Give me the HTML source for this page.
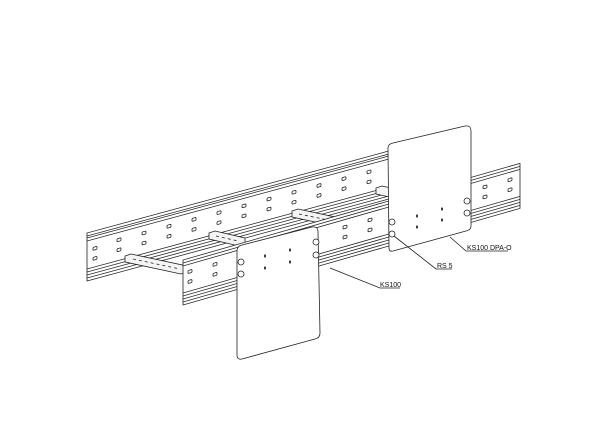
<!DOCTYPE html>
<html><head><meta charset="utf-8"><style>
html,body{margin:0;padding:0;background:#fff;width:600px;height:425px;overflow:hidden}
svg{display:block}
text{font-family:"Liberation Sans",sans-serif;font-size:7px;fill:#111}
</style></head><body>
<svg width="600" height="425" viewBox="0 0 600 425" xmlns="http://www.w3.org/2000/svg" stroke="#222" stroke-width="0.8" fill="none">
<!-- far rail -->
<g transform="translate(87,233) skewY(-15.2)">
  <rect x="0" y="0" width="303" height="48" fill="#fff"/>
  <line x1="0" y1="3" x2="303" y2="3"/><line x1="0" y1="5" x2="303" y2="5"/>
  <line x1="0" y1="8" x2="303" y2="8"/>
  <line x1="0" y1="36" x2="303" y2="36"/><line x1="0" y1="39" x2="303" y2="39"/>
  <line x1="0" y1="42" x2="303" y2="42"/><line x1="0" y1="45" x2="303" y2="45"/>
  <g fill="#fff">
  <rect x="6" y="16" width="4" height="3" rx="1"/><rect x="6" y="26" width="4" height="3" rx="1"/>
  <rect x="30" y="14" width="4" height="3" rx="1"/><rect x="30" y="24" width="4" height="3" rx="1"/>
  <rect x="55" y="14" width="4" height="3" rx="1"/><rect x="55" y="24" width="4" height="3" rx="1"/>
  <rect x="80" y="14" width="4" height="3" rx="1"/><rect x="80" y="24" width="4" height="3" rx="1"/>
  <rect x="105" y="14" width="4" height="3" rx="1"/><rect x="105" y="24" width="4" height="3" rx="1"/>
  <rect x="130" y="14" width="4" height="3" rx="1"/><rect x="130" y="24" width="4" height="3" rx="1"/>
  <rect x="155" y="14" width="4" height="3" rx="1"/><rect x="155" y="24" width="4" height="3" rx="1"/>
  <rect x="180" y="14" width="4" height="3" rx="1"/><rect x="180" y="24" width="4" height="3" rx="1"/>
  <rect x="205" y="14" width="4" height="3" rx="1"/><rect x="205" y="24" width="4" height="3" rx="1"/>
  <rect x="230" y="14" width="4" height="3" rx="1"/><rect x="230" y="24" width="4" height="3" rx="1"/>
  <rect x="255" y="14" width="4" height="3" rx="1"/><rect x="255" y="24" width="4" height="3" rx="1"/>
  <rect x="280" y="14" width="4" height="3" rx="1"/><rect x="280" y="24" width="4" height="3" rx="1"/>
  </g>
</g>
<!-- rungs -->
<g fill="#f4f4f4">
  <polygon points="125,256 131,254 187,266 187,272 181,274 125,262"/>
  <polygon points="209,233 215,231 245,238 245,244 239,246 209,239"/>
  <polygon points="292,211 298,209 335,217 335,223 329,225 292,217"/>
  <polygon points="376,188 382,186 400,190 400,196 394,198 376,194"/>
</g>
<g stroke-dasharray="3,3"><line x1="133" y1="259" x2="180" y2="269"/><line x1="216" y1="236" x2="238" y2="241"/><line x1="299" y1="214" x2="328" y2="220"/></g>
<!-- near rail -->
<g transform="translate(183,260) skewY(-16)">
  <rect x="0" y="0" width="337" height="45" fill="#fff"/>
  <line x1="0" y1="3" x2="337" y2="3"/><line x1="0" y1="6" x2="337" y2="6"/>
  <line x1="0" y1="33" x2="337" y2="33"/><line x1="0" y1="36" x2="337" y2="36"/>
  <line x1="0" y1="39" x2="337" y2="39"/><line x1="0" y1="42" x2="337" y2="42"/>
  <g fill="#fff">
  <rect x="5" y="12" width="4" height="3" rx="1"/><rect x="5" y="22" width="4" height="3" rx="1"/>
  <rect x="30" y="12" width="4" height="3" rx="1"/><rect x="30" y="22" width="4" height="3" rx="1"/>
  <rect x="160" y="12" width="4" height="3" rx="1"/><rect x="160" y="22" width="4" height="3" rx="1"/>
  <rect x="185" y="12" width="4" height="3" rx="1"/><rect x="185" y="22" width="4" height="3" rx="1"/>
  <rect x="300" y="12" width="4" height="3" rx="1"/><rect x="300" y="22" width="4" height="3" rx="1"/>
  <rect x="325" y="12" width="4" height="3" rx="1"/><rect x="325" y="22" width="4" height="3" rx="1"/>
  </g>
</g>
<!-- panel 2 (back) -->
<path d="M393,143 L465,126 Q471,125 471,131 L471,226 Q471,230 466,231 L393,251 Q389,252 389,248 L388,148 Q388,144 393,143 Z" fill="#fff"/>
<g fill="#fff"><circle cx="392" cy="222" r="3"/><circle cx="392" cy="234" r="3"/><circle cx="467" cy="201" r="3"/><circle cx="467" cy="213" r="3"/></g>
<g fill="#333" stroke="none"><ellipse cx="417" cy="216" rx="1" ry="1.6"/><ellipse cx="417" cy="227" rx="1" ry="1.6"/><ellipse cx="442" cy="209" rx="1" ry="1.6"/><ellipse cx="442" cy="220" rx="1" ry="1.6"/></g>
<!-- panel 1 (front) -->
<path d="M242,245 L312,227 Q318,226 318,232 L320,333 Q320,338 315,339 L242,359 Q237,360 237,355 L237,251 Q237,246 242,245 Z" fill="#fff"/>
<g fill="#fff"><circle cx="241" cy="262" r="3"/><circle cx="241" cy="274" r="3"/><circle cx="316" cy="242" r="3"/><circle cx="316" cy="255" r="3"/></g>
<g fill="#333" stroke="none"><ellipse cx="265" cy="256" rx="1" ry="1.6"/><ellipse cx="265" cy="268" rx="1" ry="1.6"/><ellipse cx="290" cy="250" rx="1" ry="1.6"/><ellipse cx="290" cy="262" rx="1" ry="1.6"/></g>
<!-- leaders -->
<polyline points="330,268 380,288 400,288"/>
<polyline points="394,236 436,269 452,269"/>
<polyline points="450,237 466,251 508,251"/>
<g stroke="none">
<text x="380" y="287">KS100</text>
<text x="437" y="268">RS 5</text>
<text x="467" y="250">KS100 DPA-O</text>
</g>
</svg>
</body></html>
